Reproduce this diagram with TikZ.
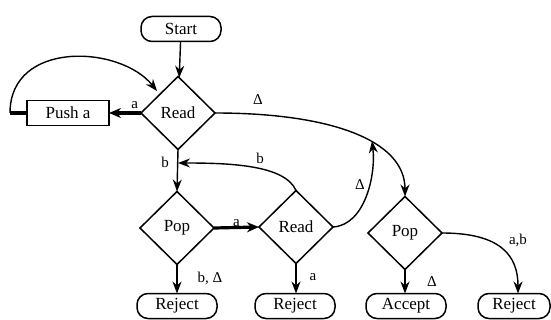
\documentclass[tikz,border=0pt]{standalone}
\usepackage{fontspec}
\setmainfont{Liberation Serif}
\usetikzlibrary{shapes.geometric,arrows.meta}
\begin{document}
\begin{tikzpicture}[x=1pt,y=-1pt,
  every node/.style={inner sep=0pt,outer sep=0pt},
  nodefont/.style={font=\fontsize{17}{17}\selectfont},
  term/.style={draw,line width=1.5pt,rounded corners=11pt,minimum width=80pt,minimum height=25pt,nodefont},
  proc/.style={draw,line width=1.5pt,minimum width=82pt,minimum height=25pt,nodefont},
  dec/.style={draw,line width=1.5pt,diamond,aspect=1,minimum width=74pt,minimum height=73pt,nodefont},
  lbl/.style={font=\fontsize{15}{15}\selectfont},
  flow/.style={line width=1.4pt,-{Stealth[length=12pt,width=9pt]}},
  heavy/.style={line width=3.2pt,-{Stealth[length=12pt,width=10pt]}}]
\useasboundingbox (0,0) rectangle (551,320);
% nodes
\node[term] (start) at (181,29) {Start};
\node[dec] (read1) at (178,113) {Read};
\node[proc] (push) at (68,113) {Push a};
\coordinate (loop) at (10,113);
\node[dec] (pop1) at (177,228) {Pop};
\node[dec] (read2) at (296,227) {Read};
\node[dec] (pop2) at (405,233) {Pop};
\node[term] (rej1) at (177,306) {Reject};
\node[term] (rej2) at (295,306) {Reject};
\node[term] (acc) at (406,306) {Accept};
\node[term,minimum width=72pt] (rej3) at (514,306) {Reject};
\coordinate (join1) at (178,163);
\coordinate (join2) at (372,141);
% connectors
\draw[flow] (start) -- (read1);
\draw[heavy] (read1.west) -- (push.east) node[lbl,pos=0.2,above=4pt] {a};
\draw[line width=3.2pt] (push.west) -- (loop);
\draw[flow] (loop) .. controls (10,40) and (120,45) .. (157,91);
\draw[flow] (read1.south) -- (pop1.north);
\node[lbl] at (165,162) {b};
\draw[flow] (read2.north) .. controls (285,165) and (230,163) .. (join1);
\node[lbl] at (260,158) {b};
\draw[heavy] (pop1.east) -- (read2.west) node[lbl,midway,above=1pt] {a};
\draw[flow] (read1.east) .. controls (330,113) and (405,140) .. (pop2.north);
\node[lbl] at (258,100) {Δ};
\draw[flow] (read2.east) .. controls (365,225) and (376,175) .. (join2);
\node[lbl] at (360,185) {Δ};
\draw[flow] (pop1.south) -- (rej1.north);
\node[lbl] at (210,278) {b, Δ};
\draw[flow] (read2.south) -- (read2.south |- rej2.north);
\node[lbl] at (313,277) {a};
\draw[flow] (pop2.south) -- (pop2.south |- acc.north);
\node[lbl] at (432,282) {Δ};
\draw[flow] (pop2.east) .. controls (500,233) and (518,255) .. (518,293.5);
\node[lbl] at (518,240) {a,b};
\end{tikzpicture}
\end{document}
